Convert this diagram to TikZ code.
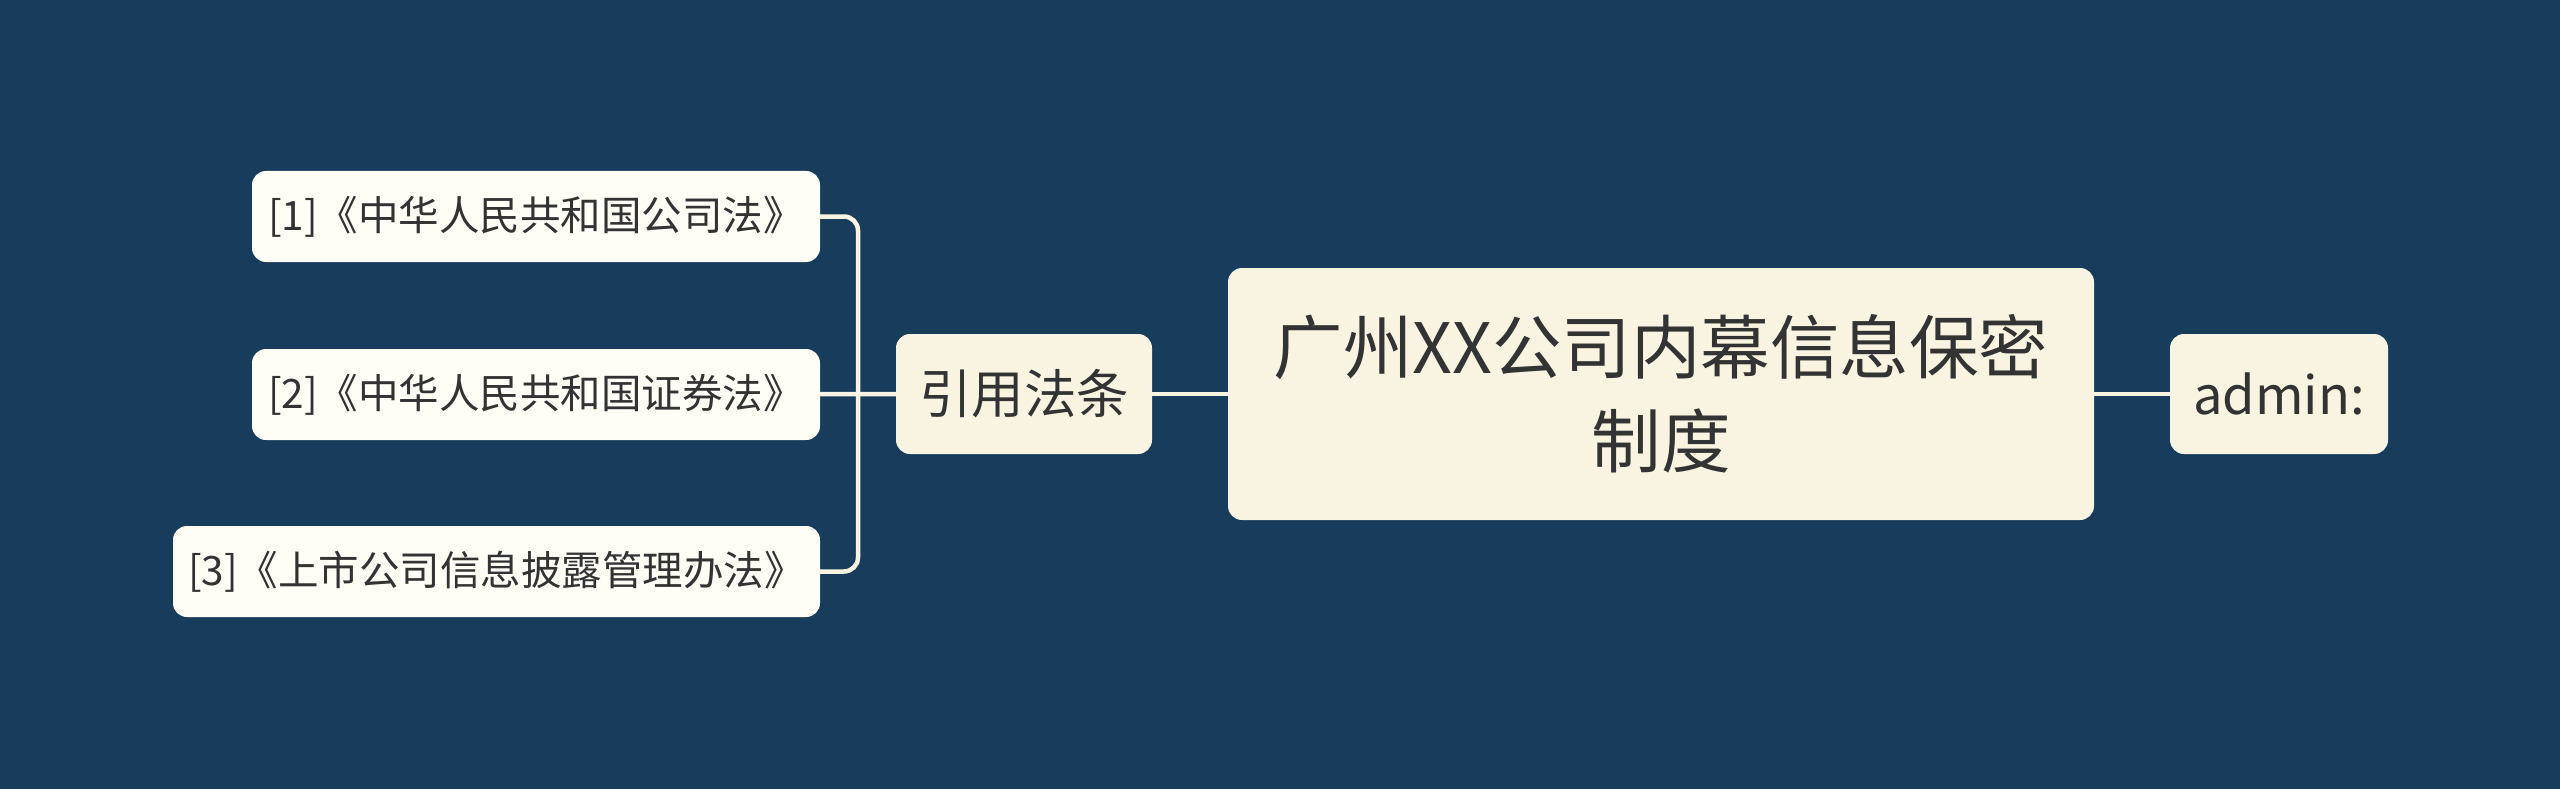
\documentclass[tikz,border=0pt]{standalone}
\usepackage{fontspec}
\setmainfont{Noto Sans CJK SC}
\usepackage{tikz}
\usetikzlibrary{positioning}

\definecolor{bgblue}{HTML}{173C5C}
\definecolor{cream}{HTML}{F8F4E1}
\definecolor{leafwhite}{HTML}{FEFDF6}
\definecolor{inkgray}{HTML}{333333}

\begin{document}
\begin{tikzpicture}[x=1pt,y=-1pt,
  box/.style={rounded corners=14pt, text=inkgray, inner sep=0pt, align=center},
  leaf/.style={box, fill=leafwhite, minimum height=91pt, font=\fontsize{40.5}{48}\selectfont},
  topic/.style={box, fill=cream, minimum height=120pt, font=\fontsize{52.5}{60}\selectfont},
  link/.style={draw=cream, line width=4.5pt}]

\fill[bgblue] (0,0) rectangle (2560,789);

\node[box, fill=cream, minimum width=866pt, minimum height=252pt, font=\fontsize{69.5}{94}\selectfont] (root) at (1661,394) {广州XX公司内幕信息保密\\制度};
\node[topic, minimum width=256pt] (cite) at (1024,394) {引用法条};
\node[topic, minimum width=218pt] (admin) at (2279,394) {admin:};

\node[leaf, minimum width=568pt] (law1) at (536,216.5) {[1]《中华人民共和国公司法》};
\node[leaf, minimum width=568pt] (law2) at (536,394.5) {[2]《中华人民共和国证券法》};
\node[leaf, minimum width=647pt] (law3) at (496.5,571.5) {[3]《上市公司信息披露管理办法》};

\coordinate (fork) at (858,394);

\draw[link] (root) -- (cite);
\draw[link] (root) -- (admin);
\draw[link] (law2) -- (cite);
\draw[link, rounded corners=14pt] (law1.east) -| (fork) |- (law3.east);

\end{tikzpicture}
\end{document}
